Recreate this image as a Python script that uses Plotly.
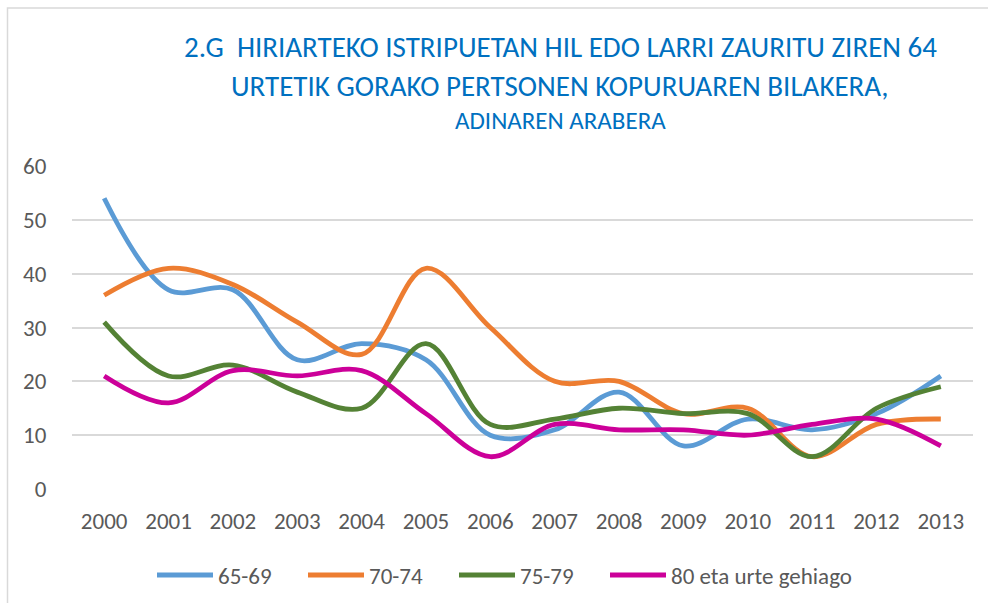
import plotly.graph_objects as go

years = ["2000", "2001", "2002", "2003", "2004", "2005", "2006",
         "2007", "2008", "2009", "2010", "2011", "2012", "2013"]
s65_69 = [54, 37, 37, 24, 27, 24, 10, 11, 18, 8, 13, 11, 14, 21]
s70_74 = [36, 41, 38, 31, 25, 41, 30, 20, 20, 14, 15, 6, 12, 13]
s75_79 = [31, 21, 23, 18, 15, 27, 12, 13, 15, 14, 14, 6, 15, 19]
s80_plus = [21, 16, 22, 21, 22, 14, 6, 12, 11, 11, 10, 12, 13, 8]
series_names = ["65-69", "70-74", "75-79", "80 eta urte gehiago"]
colors = ["#5B9BD5", "#ED7D31", "#548235", "#CC0099"]
title_lines = ["2.G  HIRIARTEKO ISTRIPUETAN HIL EDO LARRI ZAURITU ZIREN 64",
               "URTETIK GORAKO PERTSONEN KOPURUAREN BILAKERA,",
               "ADINAREN ARABERA"]

W, H = 988, 603
ML, MR, MT, MB = 72, 15, 166, 114
PW, PH = W - ML - MR, H - MT - MB

def px(x):
    return (x - ML) / PW

def py(y):
    return (H - MB - y) / PH

FONT = "Carlito, Open Sans, sans-serif"
GRAY = "#595959"

fig = go.Figure()
series = [s65_69, s70_74, s75_79, s80_plus]
for i, (name, vals, col) in enumerate(zip(series_names, series, colors)):
    fig.add_trace(go.Scatter(
        x=years, y=vals, name=name, mode="lines",
        line=dict(color=col, width=4.8, shape="spline", smoothing=1.0),
        hoverinfo="skip",
        legendwidth=80 if i < len(series) - 1 else 200,
    ))

fig.update_layout(
    width=W, height=H,
    margin=dict(l=ML, r=MR, t=MT, b=MB, autoexpand=False),
    paper_bgcolor="white", plot_bgcolor="white",
    font=dict(family=FONT, color=GRAY, size=23),
    showlegend=True,
    legend=dict(orientation="h", x=px(152), xanchor="left", y=py(575), yanchor="middle",
                font=dict(size=23, color=GRAY), entrywidthmode="pixels",
                itemwidth=56, itemsizing="constant", bgcolor="rgba(0,0,0,0)"),
    xaxis=dict(type="category", range=[-0.5, 13.5], showgrid=False, zeroline=False,
               showline=False, ticks="outside", ticklen=11, tickcolor="rgba(0,0,0,0)",
               tickfont=dict(size=23, color=GRAY), fixedrange=True, automargin=False),
    yaxis=dict(range=[0, 60], dtick=10, showgrid=True, gridcolor="#D9D9D9", gridwidth=1.5,
               zeroline=False, showline=False, ticks="outside", ticklen=20,
               tickcolor="rgba(0,0,0,0)", tickfont=dict(size=23, color=GRAY), fixedrange=True,
               automargin=False),
)

sizes = [29, 29, 25]
ys = [47, 86, 121]
for t, s, yy in zip(title_lines, sizes, ys):
    fig.add_annotation(text=t, xref="paper", yref="paper", x=px(560), y=py(yy),
                       xanchor="center", yanchor="middle", showarrow=False,
                       font=dict(size=s, color="#0070C0", family=FONT))

fig.add_shape(type="rect", xref="paper", yref="paper",
              x0=px(7.5), y0=py(620), x1=px(1010), y1=py(8),
              line=dict(color="#D9D9D9", width=1.5), fillcolor="rgba(0,0,0,0)", layer="below")

fig.write_html("out.html", config={"displayModeBar": False},
               post_script="document.body.style.margin='0px';")
